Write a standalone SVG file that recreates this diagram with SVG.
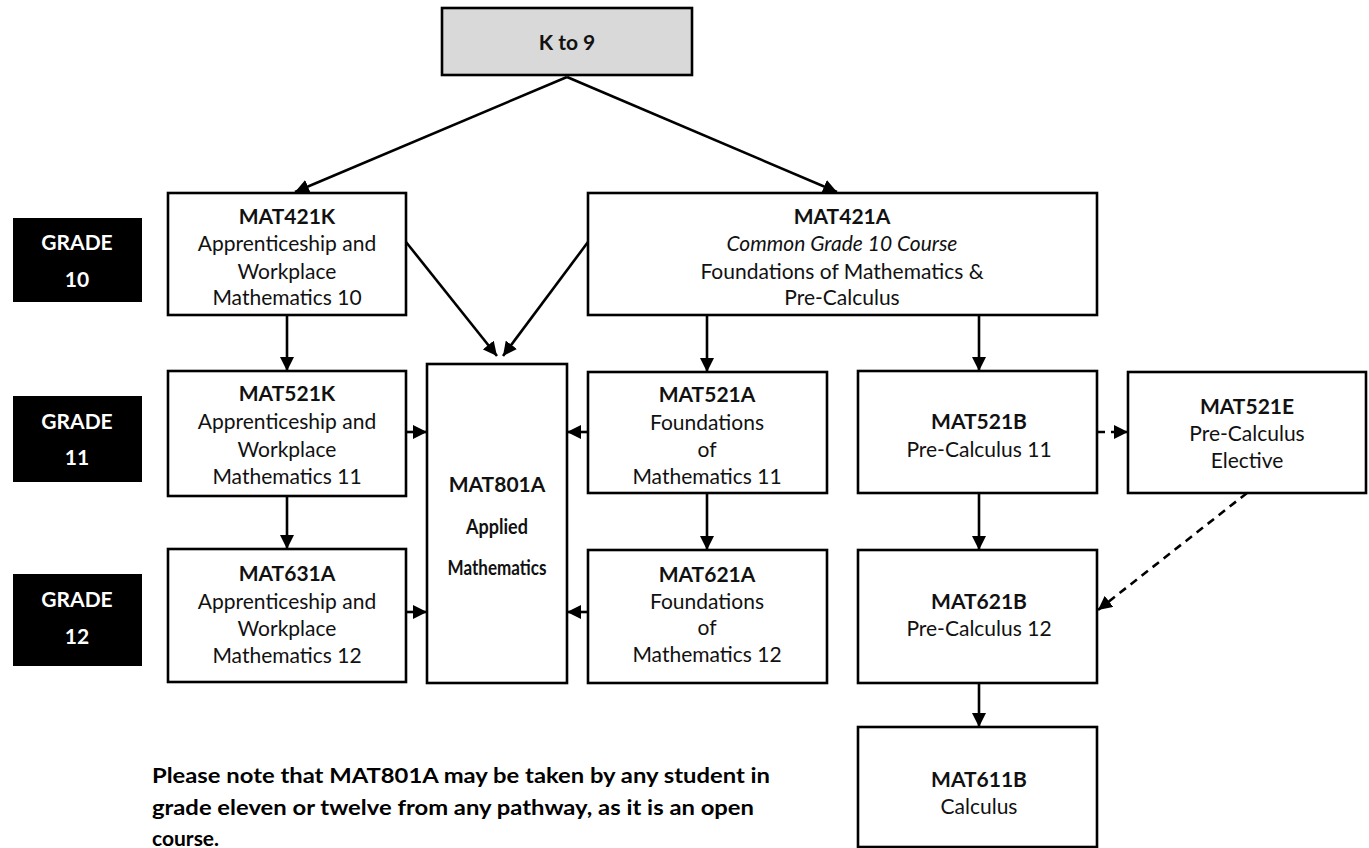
<svg xmlns="http://www.w3.org/2000/svg" width="1369" height="848" viewBox="0 0 1369 848">
<defs>
<marker id="ah" viewBox="0 0 12 12" refX="12" refY="6" markerWidth="14" markerHeight="14" markerUnits="userSpaceOnUse" orient="auto">
<path d="M0,0 L12,6 L0,12 z" fill="#000"/>
</marker>
<style>
.box{fill:#fff;stroke:#000;stroke-width:2.6}
.k9{fill:#d9d9d9;stroke:#000;stroke-width:2.6}
.grade{fill:#000}
.t{font-family:Lato,"Liberation Sans",sans-serif;font-size:21px;fill:#111;text-anchor:middle}
.b{font-weight:bold}
.i{font-style:italic}
.w{fill:#fff;font-weight:bold;font-size:21px}
.c{stroke:#000;stroke-width:2.6;fill:none;marker-end:url(#ah)}
.d{stroke-dasharray:8,6}
.note{font-family:Lato,"Liberation Sans",sans-serif;font-size:21px;font-weight:bold;fill:#000}
</style>
</defs>
<rect width="1369" height="848" fill="#fff"/>

<g id="connectors">
<line class="c" x1="567" y1="77" x2="295" y2="192"/>
<line class="c" x1="567" y1="77" x2="837" y2="192"/>
<line class="c" x1="406" y1="242" x2="497" y2="356"/>
<line class="c" x1="588" y1="242" x2="503" y2="356"/>
<line class="c" x1="287" y1="315" x2="287" y2="371"/>
<line class="c" x1="707" y1="315" x2="707" y2="372"/>
<line class="c" x1="979" y1="315" x2="979" y2="371"/>
<line class="c" x1="287" y1="496" x2="287" y2="549"/>
<line class="c" x1="707" y1="493" x2="707" y2="550"/>
<line class="c" x1="979" y1="493" x2="979" y2="550"/>
<line class="c" x1="979" y1="683" x2="979" y2="727"/>
<line class="c" x1="406" y1="432" x2="427" y2="432"/>
<line class="c" x1="406" y1="612" x2="427" y2="612"/>
<line class="c" x1="588" y1="432" x2="567" y2="432"/>
<line class="c" x1="588" y1="612" x2="567" y2="612"/>
<line class="c d" x1="1097" y1="432" x2="1128" y2="432"/>
<line class="c d" x1="1247" y1="493" x2="1098" y2="610"/>
</g>

<g id="k9">
<rect class="k9" x="442" y="8" width="250" height="67"/>
<text class="t b" x="567" y="50" font-size="24">K to 9</text>
</g>

<g id="grade10">
<rect class="grade" x="13" y="218" width="129" height="84"/>
<text class="t w" x="77" y="250">GRADE</text>
<text class="t w" x="77" y="287">10</text>
</g>
<g id="grade11">
<rect class="grade" x="13" y="396" width="129" height="86"/>
<text class="t w" x="77" y="429">GRADE</text>
<text class="t w" x="77" y="465">11</text>
</g>
<g id="grade12">
<rect class="grade" x="13" y="574" width="129" height="92"/>
<text class="t w" x="77" y="607">GRADE</text>
<text class="t w" x="77" y="644">12</text>
</g>

<g id="mat421k">
<rect class="box" x="168" y="193" width="238" height="122"/>
<text class="t b" x="287" y="224">MAT421K</text>
<text class="t" x="287" y="251">Apprenticeship and</text>
<text class="t" x="287" y="279">Workplace</text>
<text class="t" x="287" y="305">Mathematics 10</text>
</g>

<g id="mat421a">
<rect class="box" x="588" y="193" width="509" height="122"/>
<text class="t b" x="842" y="224">MAT421A</text>
<text class="t i" x="842" y="251">Common Grade 10 Course</text>
<text class="t" x="842" y="279">Foundations of Mathematics &amp;</text>
<text class="t" x="842" y="305">Pre-Calculus</text>
</g>

<g id="mat801a">
<rect class="box" x="427" y="364" width="140" height="319"/>
<text class="t b" x="497" y="492">MAT801A</text>
<text class="t b" x="497" y="534" font-size="19" textLength="62" lengthAdjust="spacingAndGlyphs">Applied</text>
<text class="t b" x="497" y="575" font-size="19" textLength="99" lengthAdjust="spacingAndGlyphs">Mathematics</text>
</g>

<g id="mat521k">
<rect class="box" x="168" y="371" width="238" height="125"/>
<text class="t b" x="287" y="401">MAT521K</text>
<text class="t" x="287" y="429">Apprenticeship and</text>
<text class="t" x="287" y="457">Workplace</text>
<text class="t" x="287" y="484">Mathematics 11</text>
</g>

<g id="mat631a">
<rect class="box" x="168" y="549" width="238" height="133"/>
<text class="t b" x="287" y="581">MAT631A</text>
<text class="t" x="287" y="609">Apprenticeship and</text>
<text class="t" x="287" y="636">Workplace</text>
<text class="t" x="287" y="663">Mathematics 12</text>
</g>

<g id="mat521a">
<rect class="box" x="588" y="372" width="239" height="121"/>
<text class="t b" x="707" y="402">MAT521A</text>
<text class="t" x="707" y="430">Foundations</text>
<text class="t" x="707" y="457">of</text>
<text class="t" x="707" y="484">Mathematics 11</text>
</g>

<g id="mat621a">
<rect class="box" x="588" y="550" width="239" height="133"/>
<text class="t b" x="707" y="582">MAT621A</text>
<text class="t" x="707" y="609">Foundations</text>
<text class="t" x="707" y="635">of</text>
<text class="t" x="707" y="662">Mathematics 12</text>
</g>

<g id="mat521b">
<rect class="box" x="858" y="371" width="239" height="122"/>
<text class="t b" x="979" y="429">MAT521B</text>
<text class="t" x="979" y="457">Pre-Calculus 11</text>
</g>

<g id="mat521e">
<rect class="box" x="1128" y="372" width="238" height="121"/>
<text class="t b" x="1247" y="414">MAT521E</text>
<text class="t" x="1247" y="441">Pre-Calculus</text>
<text class="t" x="1247" y="468">Elective</text>
</g>

<g id="mat621b">
<rect class="box" x="858" y="550" width="239" height="133"/>
<text class="t b" x="979" y="609">MAT621B</text>
<text class="t" x="979" y="636">Pre-Calculus 12</text>
</g>

<g id="mat611b">
<rect class="box" x="858" y="727" width="239" height="120"/>
<text class="t b" x="979" y="787">MAT611B</text>
<text class="t" x="979" y="814">Calculus</text>
</g>

<g id="note">
<text class="note" x="152" y="783" textLength="618" lengthAdjust="spacingAndGlyphs">Please note that MAT801A may be taken by any student in</text>
<text class="note" x="152" y="815" textLength="602" lengthAdjust="spacingAndGlyphs">grade eleven or twelve from any pathway, as it is an open</text>
<text class="note" x="152" y="846">course.</text>
</g>
</svg>
